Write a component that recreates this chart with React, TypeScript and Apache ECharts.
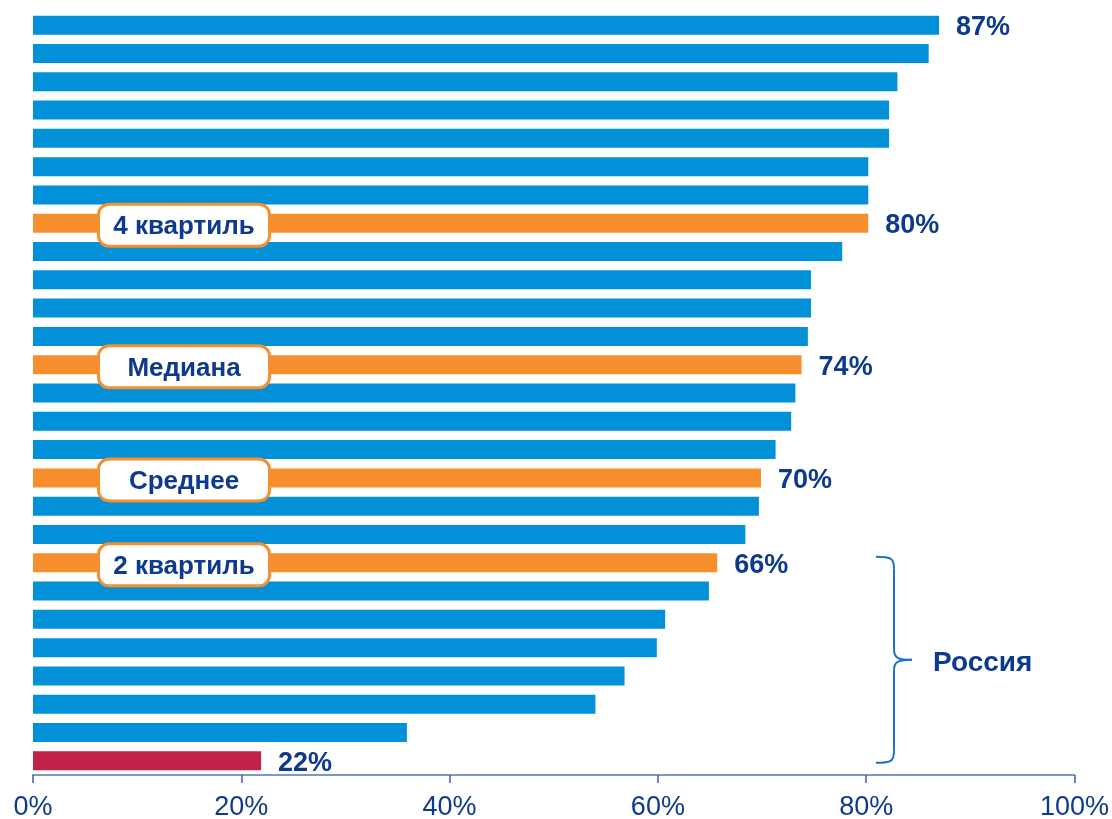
import React, { useEffect, useRef } from "react";
import * as echarts from "echarts";

const categories = [
  "Страна 1", "Страна 2", "Страна 3", "Страна 4", "Страна 5", "Страна 6", "Страна 7",
  "4 квартиль",
  "Страна 8", "Страна 9", "Страна 10", "Страна 11",
  "Медиана",
  "Страна 12", "Страна 13", "Страна 14",
  "Среднее",
  "Страна 15", "Страна 16",
  "2 квартиль",
  "Страна 17", "Страна 18", "Страна 19", "Страна 20", "Страна 21", "Страна 22",
  "Россия",
];
const values = [
  87, 86, 83, 82.2, 82.2, 80.2, 80.2,
  80.2,
  77.7, 74.7, 74.7, 74.4,
  73.8,
  73.2, 72.8, 71.3,
  69.9,
  69.7, 68.4,
  65.7,
  64.9, 60.7, 59.9, 56.8, 54, 35.9,
  21.9,
];
const benchmarks = ["4 квартиль", "Медиана", "Среднее", "2 квартиль"];
const highlightCountry = "Россия";
const topLabelled = ["Страна 1"];
const xTicks = [0, 20, 40, 60, 80, 100];

const FONT = "'Liberation Sans', Arial, sans-serif";
const NAVY = "#0d3a8e";
const BLUE = "#0291d9";
const ORANGE = "#f78f2e";
const RED = "#bf214b";

export default function App() {
  const ref = useRef<HTMLDivElement>(null);
  useEffect(() => {
    if (!ref.current) return;
    const chart = echarts.init(ref.current, null, { renderer: "svg" });
    const barData = values.map((v, i) => {
      const name = categories[i];
      const isBench = benchmarks.includes(name);
      const color = isBench ? ORANGE : name === highlightCountry ? RED : BLUE;
      return {
        value: v,
        itemStyle: { color },
        label: isBench
          ? {
              show: true,
              formatter: name,
              position: [151, "50%"],
              offset: [0, 2],
              align: "center",
              verticalAlign: "middle",
              width: 168,
              height: 39,
              lineHeight: 39,
              backgroundColor: "#ffffff",
              borderColor: ORANGE,
              borderWidth: 3,
              borderRadius: 9,
              color: NAVY,
              fontWeight: "bold",
              fontSize: 26,
              fontFamily: FONT,
            }
          : { show: false },
      };
    });
    const labelData = values.map((v, i) => {
      const name = categories[i];
      const show =
        benchmarks.includes(name) || name === highlightCountry || topLabelled.includes(name);
      return { value: v, label: { show } };
    });
    chart.setOption({
      animation: false,
      grid: { left: 33, right: 37, top: 11, bottom: 44, containLabel: false },
      xAxis: {
        type: "value",
        min: 0,
        max: 100,
        interval: 20,
        axisLine: { show: true, lineStyle: { color: "#7f96cb", width: 2 } },
        axisTick: { show: true, length: 8, lineStyle: { color: "#3f5fa8", width: 1.5 } },
        splitLine: { show: false },
        axisLabel: {
          formatter: (v: number) => (xTicks.includes(v) ? v + "%" : ""),
          color: NAVY,
          fontSize: 27,
          fontFamily: FONT,
          margin: 17,
        },
      },
      yAxis: {
        type: "category",
        data: categories,
        inverse: true,
        axisLine: { show: false },
        axisTick: { show: false },
        axisLabel: { show: false },
      },
      series: [
        {
          type: "bar",
          data: barData,
          barWidth: 19,
          silent: true,
        },
        {
          type: "bar",
          data: labelData,
          barWidth: 19,
          barGap: "-100%",
          silent: true,
          itemStyle: { color: "rgba(0,0,0,0)" },
          label: {
            position: "right",
            distance: 17,
            offset: [0, 1],
            formatter: (p: any) => Math.round(p.value) + "%",
            color: NAVY,
            fontWeight: "bold",
            fontSize: 27,
            fontFamily: FONT,
          },
        },
      ],
    });

    const startIdx = categories.indexOf("2 квартиль");
    const endIdx = categories.indexOf(highlightCountry);
    const yTop = (chart.convertToPixel({ yAxisIndex: 0 }, startIdx) as number) - 6;
    const yBot = (chart.convertToPixel({ yAxisIndex: 0 }, endIdx) as number) + 2;
    const yMid = (yTop + yBot) / 2;
    const xL = 876;
    const xS = 894;
    const xT = 912;
    const braceStyle = { stroke: "#1a72c4", lineWidth: 2, fill: "none" };
    chart.setOption({
      graphic: [
        {
          type: "group",
          silent: true,
          children: [
            { type: "bezierCurve", shape: { x1: xL, y1: yTop, cpx1: xS - 2, cpy1: yTop, cpx2: xS, cpy2: yTop + 2, x2: xS, y2: yTop + 12 }, style: braceStyle },
            { type: "line", shape: { x1: xS, y1: yTop + 12, x2: xS, y2: yMid - 10 }, style: braceStyle },
            { type: "bezierCurve", shape: { x1: xS, y1: yMid - 10, cpx1: xS, cpy1: yMid - 2, cpx2: xS + 4, cpy2: yMid, x2: xT, y2: yMid }, style: braceStyle },
            { type: "bezierCurve", shape: { x1: xT, y1: yMid, cpx1: xS + 4, cpy1: yMid, cpx2: xS, cpy2: yMid + 2, x2: xS, y2: yMid + 10 }, style: braceStyle },
            { type: "line", shape: { x1: xS, y1: yMid + 10, x2: xS, y2: yBot - 12 }, style: braceStyle },
            { type: "bezierCurve", shape: { x1: xS, y1: yBot - 12, cpx1: xS, cpy1: yBot - 2, cpx2: xS - 2, cpy2: yBot, x2: xL, y2: yBot }, style: braceStyle },
          ],
        },
        {
          type: "text",
          silent: true,
          x: 933,
          y: yMid + 2,
          style: {
            text: highlightCountry,
            fill: NAVY,
            font: `bold 28px ${FONT}`,
            textVerticalAlign: "middle",
            verticalAlign: "middle",
          },
        },
      ],
    });
    return () => chart.dispose();
  }, []);
  return (
    <div
      ref={ref}
      style={{ position: "fixed", left: 0, top: 0, width: 1112, height: 819 }}
    />
  );
}
